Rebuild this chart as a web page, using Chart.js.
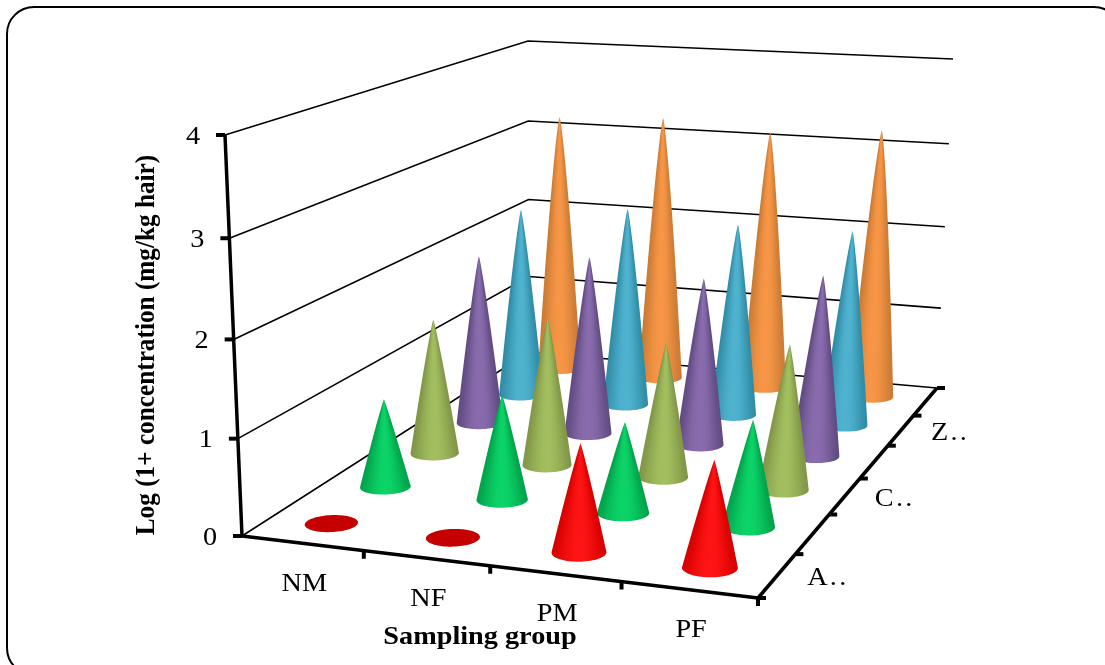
<!DOCTYPE html>
<html>
<head>
<meta charset="utf-8">
<title>Log concentration by sampling group</title>
<script src="https://cdn.jsdelivr.net/npm/chart.js"></script>
<style>
  html, body { margin:0; padding:0; background:#fff; overflow:hidden; }
  #frame { position:absolute; left:6px; top:6px; width:1112px; height:666px; border:2.5px solid #000; border-radius:28px; }
  #c { position:absolute; left:0; top:0; }
</style>
</head>
<body>
<div id="frame"></div>
<canvas id="c" width="1105" height="665"></canvas>
<script>
const groups = ["NM", "NF", "PM", "PF"];
const depthLabels = ["A..", "", "C..", "", "Z..", ""];
const yTicks = [0, 1, 2, 3, 4];
const yTitle = "Log (1+ concentration (mg/kg hair)";
const xTitle = "Sampling group";

// one row of cones per element, front to back
const seriesA = [0, 0, 1.10, 1.07];
const seriesB = [0.955, 1.125, 0.96, 1.11];
const seriesC = [1.52, 1.645, 1.475, 1.575];
const seriesD = [1.96, 2.045, 1.90, 2.03];
const seriesE = [2.26, 2.36, 2.26, 2.275];
const seriesF = [3.18, 3.23, 3.125, 3.22];
const rows = [seriesA, seriesB, seriesC, seriesD, seriesE, seriesF];
const rowEdge = ["#d40000", "#00a04a", "#7f9447", "#5f4a80", "#2f8aa4", "#c97a34"];
const rowCenter = ["#ff1414", "#0cd468", "#a2be5e", "#8a6cae", "#4fb2cf", "#f79646"];
const flatColor = "#c40000";

// corners of the floor and of the top plane on the plot: front-left, front-right, back-right, back-left
const floorQuad = [[242, 536], [758, 598], [937, 388], [529, 352]];
const topQuad = [[225, 135], [782, 170], [953, 59], [528, 41]];
const yMax = yTicks[yTicks.length - 1];

function homography(q) {
  const dx1 = q[1][0] - q[2][0], dx2 = q[3][0] - q[2][0], sx = q[0][0] - q[1][0] + q[2][0] - q[3][0];
  const dy1 = q[1][1] - q[2][1], dy2 = q[3][1] - q[2][1], sy = q[0][1] - q[1][1] + q[2][1] - q[3][1];
  const den = dx1 * dy2 - dx2 * dy1;
  const g = (sx * dy2 - dx2 * sy) / den, h = (dx1 * sy - sx * dy1) / den;
  const a = q[1][0] - q[0][0] + g * q[1][0], b = q[3][0] - q[0][0] + h * q[3][0];
  const d = q[1][1] - q[0][1] + g * q[1][1], e = q[3][1] - q[0][1] + h * q[3][1];
  return (u, w) => {
    const k = g * u + h * w + 1;
    return [(a * u + b * w + q[0][0]) / k, (d * u + e * w + q[0][1]) / k];
  };
}
const floorAt = homography(floorQuad);
const topAt = homography(topQuad);

// u along groups, w along depth, v is the value
function project(u, w, v) {
  const f = floorAt(u, w), t = topAt(u, w);
  const r = v / yMax, k = r / (1 + 0.04 * (1 - r)); // small vertical perspective
  return { x: f[0] + (t[0] - f[0]) * k, y: f[1] + (t[1] - f[1]) * k };
}
const colU = (i) => (i + 0.5) / groups.length;
const rowW = (j) => (j + 0.5) / rows.length;

function mix(a, b, t) {
  const na = parseInt(a.slice(1), 16), nb = parseInt(b.slice(1), 16);
  const ch = (s) => Math.round(((na >> s) & 255) * (1 - t) + ((nb >> s) & 255) * t);
  return `rgb(${ch(16)},${ch(8)},${ch(0)})`;
}

// grid, axes and tick marks as line datasets
const lineSets = [];
function addLine(points, width) {
  lineSets.push({ type: "scatter", showLine: true, data: points, borderColor: "#000", borderWidth: width, pointRadius: 0 });
}
yTicks.forEach((t) => {
  addLine([project(0, 0, t), project(0, 1, t), project(1, 1, t)], 1.6);
  const p = project(0, 0, t);
  addLine([{ x: p.x - 9, y: p.y }, p], 4);
});
addLine([project(0, 0, 0), project(0, 0, yMax)], 3.5);
addLine([project(0, 0, 0), project(1, 0, 0)], 3.5);
addLine([project(1, 0, 0), project(1, 1, 0)], 3.5);
groups.forEach((g, i) => {
  const p = project((i + 1) / groups.length, 0, 0);
  addLine([p, { x: p.x, y: p.y + 8 }], 4);
});
for (let j = 0; j <= rows.length; j++) {
  const p = project(1, j / rows.length, 0);
  addLine([p, { x: p.x + 8, y: p.y }], 4);
}

// cone tips, one dataset per row; the plugin below paints the bodies
const coneSets = rows.map((vals, j) => ({
  type: "scatter",
  label: depthLabels[j],
  data: vals.map((v, i) => project(colU(i), rowW(j), v)),
  pointRadius: 0,
  showLine: false,
}));

function drawCone(chart, i, j, v) {
  const ctx = chart.ctx, sx = chart.scales.x, sy = chart.scales.y;
  const px = (p) => [sx.getPixelForValue(p.x), sy.getPixelForValue(p.y)];
  const ru = 0.05, rw = 0.035, n = 72;
  const rim = [];
  for (let k = 0; k < n; k++) {
    const a = (k / n) * Math.PI * 2;
    rim.push(px(project(colU(i) + ru * Math.cos(a), rowW(j) + rw * Math.sin(a), 0)));
  }
  if (v === 0) {
    ctx.fillStyle = flatColor;
    ctx.beginPath();
    rim.forEach((p, k) => (k ? ctx.lineTo(p[0], p[1]) : ctx.moveTo(p[0], p[1])));
    ctx.closePath();
    ctx.fill();
    return;
  }
  const tip = px(project(colU(i), rowW(j), v));
  const base = px(project(colU(i), rowW(j), 0));
  const xs = rim.map((p) => p[0]);
  const iL = xs.indexOf(Math.min(...xs)), iR = xs.indexOf(Math.max(...xs));
  const hw = (xs[iR] - xs[iL]) / 2;
  const hgt = base[1] - tip[1];
  const bulge = 1 - 0.07 * v; // tall cones have the fuller sides
  const widthAt = (y) => hw * Math.pow(Math.min(1, Math.max(0, (y - tip[1]) / hgt)), bulge);
  const axisAt = (y) => tip[0] + ((base[0] - tip[0]) * (y - tip[1])) / hgt;

  // outline: down the left side, round the front of the base, up the right side
  ctx.save();
  ctx.beginPath();
  ctx.moveTo(tip[0], tip[1]);
  for (let y = tip[1] + 2; y < rim[iL][1]; y += 2) ctx.lineTo(axisAt(y) - widthAt(y), y);
  for (let k = iL; k !== iR; k = (k + 1) % n) ctx.lineTo(rim[k][0], rim[k][1]);
  ctx.lineTo(rim[iR][0], rim[iR][1]);
  for (let y = rim[iR][1] - 2; y > tip[1]; y -= 2) ctx.lineTo(axisAt(y) + widthAt(y), y);
  ctx.closePath();
  ctx.clip();

  // horizontal strips on whole pixels, a fractional edge would let the grid show through
  const bottom = Math.ceil(Math.max(...rim.map((p) => p[1])));
  for (let y = Math.floor(tip[1]); y < bottom; y++) {
    const mid = y + 0.5, c = axisAt(Math.min(mid, base[1])), h = Math.max(widthAt(mid), 0.5);
    const grad = ctx.createLinearGradient(c - h, 0, c + h, 0);
    for (let k = 0; k <= 10; k++) {
      const s = k / 5 - 1;
      grad.addColorStop(k / 10, mix(rowEdge[j], rowCenter[j], Math.pow(1 - s * s, 1.5)));
    }
    ctx.fillStyle = grad;
    ctx.fillRect(Math.floor(c - h - 3), y, Math.ceil(2 * h + 6), 1);
  }
  ctx.restore();
}

const conePlugin = {
  id: "cones",
  afterDatasetsDraw(chart) {
    for (let j = rows.length - 1; j >= 0; j--) {
      rows[j].forEach((v, i) => drawCone(chart, i, j, v));
    }
  },
};

const textPlugin = {
  id: "labels3d",
  afterDraw(chart) {
    const ctx = chart.ctx, sx = chart.scales.x, sy = chart.scales.y;
    const stretch = 1.13; // reference text is wider than tall
    const put = (txt, x, y, align) => {
      ctx.save();
      ctx.translate(x, y);
      ctx.scale(stretch, 1);
      ctx.textAlign = align;
      ctx.fillText(txt, 0, 0);
      ctx.restore();
    };
    const at = (p, dx, dy) => [sx.getPixelForValue(p.x) + dx, sy.getPixelForValue(p.y) + dy];
    ctx.save();
    ctx.fillStyle = "#000";
    ctx.textBaseline = "middle";
    ctx.font = "25px 'Liberation Serif'";
    yTicks.forEach((t) => put(String(t), ...at(project(0, 0, t), -32, 2), "center"));
    groups.forEach((g, i) => put(g, ...at(project(colU(i), 0, 0), 2, 41), "center"));
    ctx.letterSpacing = "2px";
    depthLabels.forEach((d, j) => { if (d) put(d, ...at(project(1, rowW(j), 0), 30, 3), "left"); });
    ctx.letterSpacing = "0px";
    ctx.font = "bold 25px 'Liberation Serif'";
    put(xTitle, 480, 638, "center");
    ctx.translate(146.5, 345);
    ctx.rotate(-Math.PI / 2);
    ctx.scale(1.01, stretch);
    ctx.textAlign = "center";
    ctx.fillText(yTitle, 0, 0);
    ctx.restore();
  },
};

new Chart(document.getElementById("c"), {
  type: "scatter",
  data: { datasets: [...lineSets, ...coneSets] },
  options: {
    responsive: false,
    animation: false,
    layout: { padding: 0 },
    plugins: { legend: { display: false }, tooltip: { enabled: false } },
    scales: {
      x: { type: "linear", min: 0, max: 1105, display: false },
      y: { type: "linear", min: 0, max: 665, reverse: true, display: false },
    },
  },
  plugins: [conePlugin, textPlugin],
});
</script>
</body>
</html>
